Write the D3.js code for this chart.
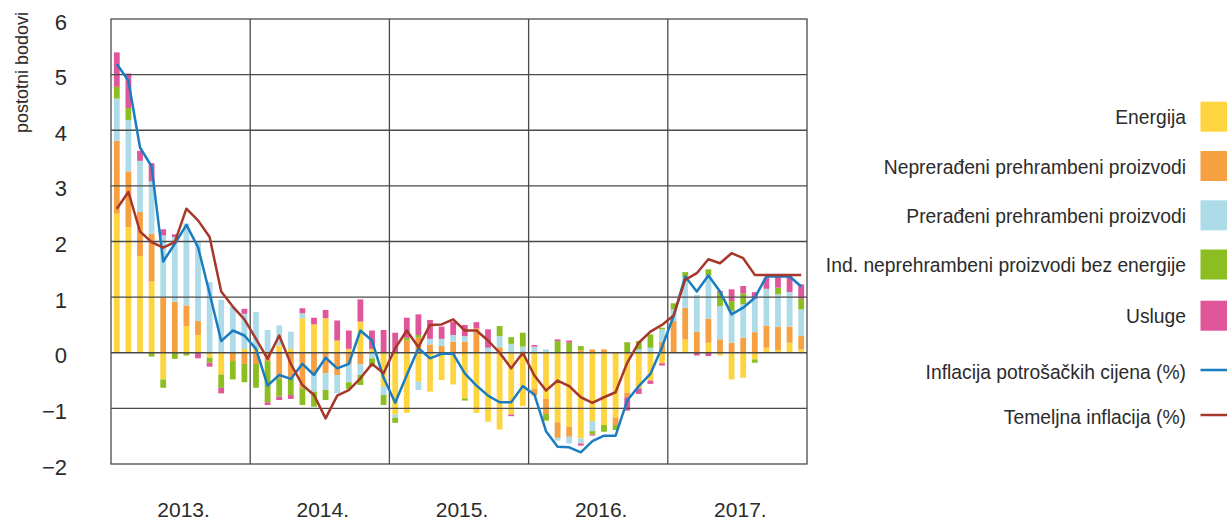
<!DOCTYPE html>
<html>
<head>
<meta charset="utf-8">
<script src="https://cdn.jsdelivr.net/npm/d3@7"></script>
<style>
  html, body { margin: 0; padding: 0; background: #fff; }
  svg { display: block; }
  text { font-family: "Liberation Sans", Arial, sans-serif; fill: #2b2b2b; }
</style>
</head>
<body>
<svg id="chart" width="1227" height="524"></svg>
<script>
// ---- DATA ----
const years = ["2013.", "2014.", "2015.", "2016.", "2017."];
const seriesNames = [
  "Energija",
  "Neprerađeni prehrambeni proizvodi",
  "Prerađeni prehrambeni proizvodi",
  "Ind. neprehrambeni proizvodi bez energije",
  "Usluge"
];
const lineNames = ["Inflacija potrošačkih cijena (%)", "Temeljna inflacija (%)"];
const yTicks = [-2, -1, 0, 1, 2, 3, 4, 5, 6];

const energija = [
  2.5, 2.26, 1.74, 1.28, -0.48, 0, 0.48, 0.32, -0.09, -0.39, 0, 0.07,
  0.07, 0, 0.13, 0.07, 0.62, 0.51, 0.62, 0.22, 0.07, 0.56, 0.07, -0.61,
  -1.11, -1.08, -0.52, -0.7, -0.49, -0.57, -0.82, -1.08, -1.24, -1.38, -1.11, -0.96,
  -0.65, -0.83, -1.25, -1.33, -1.54, -1.23, -1.3, -1.17, -0.72, -0.64, -0.5, -0.19,
  0, 0.24, 0, 0.18, -0.05, -0.48, -0.45, -0.12, 0.09, 0.05, 0.18, 0.06
];
const neprerađeni = [
  1.31, 1.0, 0.79, 0.86, 0.99, 0.92, 0.37, 0.25, 0, 0, -0.15, -0.2,
  -0.2, -0.15, -0.46, -0.46, -0.64, -0.37, -0.37, -0.4, -0.2, -0.21, 0, 0,
  0, 0.22, 0.27, 0.15, 0.12, 0.2, 0.2, 0.44, 0, 0.1, 0, 0,
  -0.12, -0.27, -0.28, -0.18, 0.04, 0.06, 0.06, -0.13, -0.08, 0, 0, 0.2,
  0.57, 0.57, 0.38, 0.43, 0.24, 0.18, 0.27, 0.37, 0.4, 0.42, 0.29, 0.24
];
const prerađeni = [
  0.76, 0.92, 0.92, 0.94, 1.12, 1.16, 1.47, 1.43, 1.27, 0.95, 0.83, 0.63,
  0.66, 0.41, 0.36, 0.31, 0.09, -0.33, -0.3, -0.33, -0.33, -0.19, -0.1, -0.15,
  -0.06, 0, -0.15, 0.1, 0.13, 0.12, 0.1, 0, 0.09, 0.2, 0.16, 0.11,
  0.11, 0.06, -0.05, -0.12, -0.09, -0.18, 0, 0, 0, 0.06, 0.09, 0.22,
  0.21, 0.54, 0.66, 0.78, 0.6, 0.57, 0.6, 0.6, 0.66, 0.58, 0.62, 0.48
];
const industrijski = [
  0.21, 0.22, 0, -0.07, -0.15, -0.11, -0.05, 0, -0.09, -0.24, -0.33, -0.33,
  -0.43, -0.74, -0.33, -0.3, -0.3, -0.27, -0.18, 0, -0.12, -0.18, -0.15, -0.18,
  -0.09, 0.05, 0.05, 0, 0, 0, -0.04, 0, 0, 0.18, 0.12, 0.25,
  0, -0.12, 0.21, 0.18, 0.08, -0.06, -0.12, -0.09, 0.19, 0.15, 0.24, 0.03,
  0.11, 0.1, 0, 0.11, 0.24, 0.18, 0.2, -0.06, 0, 0.12, 0, 0.19
];
const usluge = [
  0.62, 0.62, 0.18, 0.33, 0.11, 0.05, 0, -0.1, -0.07, -0.1, 0, 0.09,
  0, -0.05, -0.06, -0.07, 0.09, 0.12, 0.15, 0.36, 0.33, 0.4, 0.33, 0.41,
  0.36, 0.36, 0.37, 0.34, 0.22, 0.24, 0.2, 0.11, 0.33, 0, -0.03, 0,
  0.03, 0, 0.03, 0.04, -0.04, -0.02, 0, 0, -0.24, -0.1, -0.06, -0.04,
  0, 0, -0.05, -0.06, 0.03, 0.21, 0.13, 0.12, 0.2, 0.21, 0.29, 0.26
];
const inflacija = [
  5.19, 4.89, 3.69, 3.35, 1.64, 1.96, 2.30, 1.90, 1.07, 0.21, 0.40, 0.31,
  0.07, -0.59, -0.40, -0.47, -0.20, -0.40, -0.09, -0.28, -0.20, 0.40, 0.22, -0.45,
  -0.90, -0.40, 0.08, -0.10, -0.02, -0.02, -0.37, -0.59, -0.77, -0.89, -0.89, -0.60,
  -0.75, -1.41, -1.69, -1.70, -1.79, -1.59, -1.49, -1.49, -0.86, -0.60, -0.38, 0.10,
  0.66, 1.37, 1.10, 1.39, 1.10, 0.69, 0.81, 0.99, 1.37, 1.37, 1.37, 1.19
];
const temeljna = [
  2.59, 2.89, 2.18, 1.99, 1.89, 1.99, 2.59, 2.38, 2.08, 1.10, 0.83, 0.60,
  0.25, -0.11, 0.31, -0.20, -0.58, -0.76, -1.18, -0.77, -0.67, -0.46, -0.20, -0.37,
  0.08, 0.40, 0.10, 0.50, 0.51, 0.60, 0.40, 0.40, 0.22, 0, -0.28, 0,
  -0.41, -0.68, -0.50, -0.60, -0.80, -0.90, -0.80, -0.71, -0.18, 0.18, 0.38, 0.50,
  0.67, 1.31, 1.43, 1.68, 1.61, 1.79, 1.70, 1.40, 1.40, 1.40, 1.40, 1.40
];

// ---- BUILD ----
const colors = ["#FFD53F", "#F6A042", "#ADDCE8", "#8CBE22", "#E0569A"];
const lineColors = ["#1B7CC0", "#A6372B"];
const seriesValues = [energija, neprerađeni, prerađeni, industrijski, usluge];

const months = [];
years.forEach(y => { for (let m = 1; m <= 12; m++) months.push(y + m); });

const table = months.map((m, i) => {
  const row = { month: m };
  seriesNames.forEach((s, j) => row[s] = seriesValues[j][i]);
  return row;
});

const svg = d3.select("#chart");
const L = 111, R = 807, T = 19, B = 464;

const x = d3.scaleBand().domain(months).range([L, R]).paddingInner(0.5).paddingOuter(0.25);
const y = d3.scaleLinear().domain([-2, 6]).range([B, T]);

const stack = d3.stack().keys(seriesNames).offset(d3.stackOffsetDiverging);
const stacked = stack(table);

// bars
svg.append("g").selectAll("g").data(stacked).join("g")
  .attr("fill", (d, i) => colors[i])
  .selectAll("rect").data(d => d).join("rect")
  .attr("x", d => x(d.data.month))
  .attr("width", x.bandwidth())
  .attr("y", d => y(Math.max(d[0], d[1])))
  .attr("height", d => Math.abs(y(d[0]) - y(d[1])));

// grid
const grid = svg.append("g").attr("stroke", "#4a4a4a").attr("stroke-width", 1.3);
yTicks.filter(t => t > -2 && t < 6).forEach(t => {
  grid.append("line").attr("x1", L).attr("x2", R).attr("y1", y(t)).attr("y2", y(t));
});
const yearBand = d3.scaleBand().domain(years).range([L, R]);
years.slice(1).forEach(yr => {
  grid.append("line").attr("x1", yearBand(yr)).attr("x2", yearBand(yr)).attr("y1", T).attr("y2", B);
});
grid.append("rect").attr("x", L).attr("y", T).attr("width", R - L).attr("height", B - T).attr("fill", "none");

// lines
const cx = m => x(m) + x.bandwidth() / 2;
[inflacija, temeljna].forEach((vals, i) => {
  const line = d3.line().x((d, k) => cx(months[k])).y(d => y(d));
  svg.append("path").datum(vals)
    .attr("d", line)
    .attr("fill", "none")
    .attr("stroke", lineColors[i])
    .attr("stroke-width", 2.5)
    .attr("stroke-linejoin", "round");
});

// y tick labels
svg.append("g").selectAll("text").data(yTicks).join("text")
  .attr("x", 67).attr("y", d => y(d) + 10.5)
  .attr("text-anchor", "end")
  .style("font-size", "22px")
  .text(d => d < 0 ? "\u2212" + Math.abs(d) : d);

// year labels
svg.append("g").selectAll("text").data(years).join("text")
  .attr("x", d => yearBand(d) + yearBand.bandwidth() / 2 + 3)
  .attr("y", 517)
  .attr("text-anchor", "middle")
  .style("font-size", "21px")
  .text(d => d);

// y title
svg.append("text")
  .attr("transform", "translate(28,12) rotate(-90)")
  .attr("text-anchor", "end")
  .style("font-size", "18px")
  .text("postotni bodovi");

// legend
const lg = svg.append("g");
const barLegendY = [116.7, 166, 215.3, 264.5, 315.7];
seriesNames.forEach((s, i) => {
  lg.append("rect").attr("x", 1200.5).attr("y", barLegendY[i] - 15).attr("width", 27).attr("height", 30).attr("fill", colors[i]);
  lg.append("text").attr("x", 1186).attr("y", barLegendY[i] + 7.5).attr("text-anchor", "end")
    .style("font-size", "19.3px").text(s);
});
const lineLegendY = [370, 415];
lineNames.forEach((s, i) => {
  lg.append("line").attr("x1", 1200.5).attr("x2", 1227).attr("y1", lineLegendY[i]).attr("y2", lineLegendY[i])
    .attr("stroke", lineColors[i]).attr("stroke-width", 2.5);
  lg.append("text").attr("x", 1186).attr("y", lineLegendY[i] + 8.5).attr("text-anchor", "end")
    .style("font-size", "19.3px").text(s);
});
</script>
</body>
</html>
